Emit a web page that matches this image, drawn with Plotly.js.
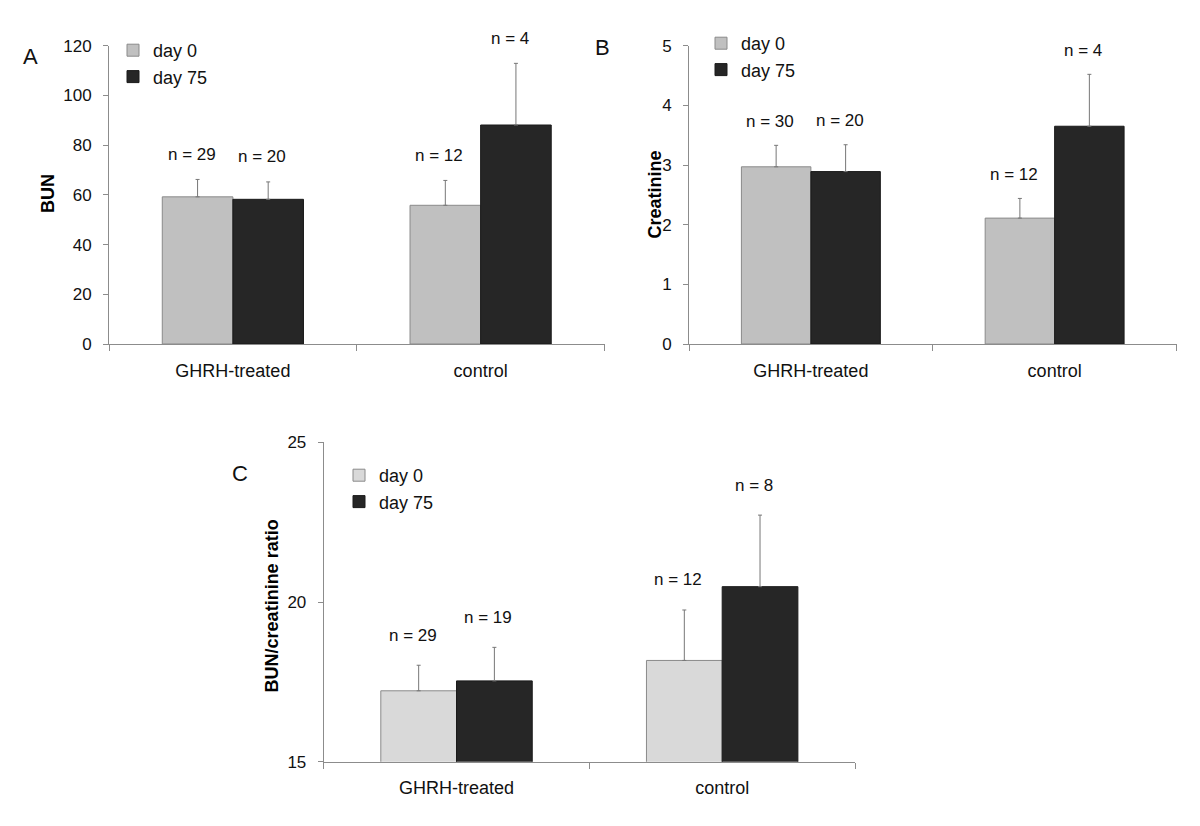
<!DOCTYPE html>
<html>
<head>
<meta charset="utf-8">
<script src="https://cdn.plot.ly/plotly-3.0.1.min.js"></script>
<style>html,body{margin:0;padding:0;background:#fff;}#chart{width:1200px;height:826px;}</style>
</head>
<body>
<div id="chart"></div>
<script>
// ---- data ----
const categories = ['GHRH-treated', 'control'];
const seriesNames = ['day 0', 'day 75'];

const bunDay0 = [59.2, 55.8];
const bunDay0Err = [7.0, 10.0];
const bunDay75 = [58.2, 88.1];
const bunDay75Err = [7.0, 24.8];
const bunNDay0 = [29, 12];
const bunNDay75 = [20, 4];

const creatDay0 = [2.97, 2.11];
const creatDay0Err = [0.36, 0.33];
const creatDay75 = [2.89, 3.65];
const creatDay75Err = [0.45, 0.87];
const creatNDay0 = [30, 12];
const creatNDay75 = [20, 4];

const ratioDay0 = [17.22, 18.17];
const ratioDay0Err = [0.80, 1.58];
const ratioDay75 = [17.53, 20.48];
const ratioDay75Err = [1.05, 2.24];
const ratioNDay0 = [29, 12];
const ratioNDay75 = [19, 8];

const panelTitles = ['BUN', 'Creatinine', 'BUN/creatinine ratio'];
const panelLetters = ['A', 'B', 'C'];

// ---- helpers ----
const W = 1200, H = 826;
const px = v => v / W;
const py = v => 1 - v / H;
const FONT = '"Liberation Sans", Arial, Helvetica, sans-serif';
const AXIS_COLOR = '#8c8c8c';
const BARGAP = 0.43;
const zeros = a => a.map(() => 0);

function barTrace(name, vals, errs, color, lineColor, xa, ya, legend) {
  return {
    type: 'bar', name: name, x: categories, y: vals,
    xaxis: xa, yaxis: ya, legend: legend, showlegend: true,
    marker: {color: color, line: {color: lineColor, width: 1}},
    error_y: {type: 'data', symmetric: false, array: errs, arrayminus: zeros(errs),
              color: '#777777', thickness: 1, width: 2},
    hoverinfo: 'skip'
  };
}

const traces = [
  barTrace(seriesNames[0], bunDay0, bunDay0Err, '#c0c0c0', '#8a8a8a', 'x', 'y', 'legend'),
  barTrace(seriesNames[1], bunDay75, bunDay75Err, '#262626', '#1a1a1a', 'x', 'y', 'legend'),
  barTrace(seriesNames[0], creatDay0, creatDay0Err, '#c0c0c0', '#8a8a8a', 'x2', 'y2', 'legend2'),
  barTrace(seriesNames[1], creatDay75, creatDay75Err, '#262626', '#1a1a1a', 'x2', 'y2', 'legend2'),
  barTrace(seriesNames[0], ratioDay0, ratioDay0Err, '#d9d9d9', '#8a8a8a', 'x3', 'y3', 'legend3'),
  barTrace(seriesNames[1], ratioDay75, ratioDay75Err, '#262626', '#1a1a1a', 'x3', 'y3', 'legend3')
];

// n-labels above error bars
const barOffset = (1 - BARGAP) / 4;
const annotations = [];
function nLabels(vals, errs, ns, side, xa, ya, yshift) {
  ns.forEach((n, i) => {
    annotations.push({
      xref: xa, yref: ya, x: i + side * barOffset, y: vals[i] + errs[i],
      text: 'n = ' + n, showarrow: false, xanchor: 'center', yanchor: 'middle',
      xshift: -6, yshift: yshift, font: {family: FONT, size: 17, color: '#111'}
    });
  });
}
nLabels(bunDay0, bunDay0Err, bunNDay0, -1, 'x', 'y', 25);
nLabels(bunDay75, bunDay75Err, bunNDay75, 1, 'x', 'y', 25);
nLabels(creatDay0, creatDay0Err, creatNDay0, -1, 'x2', 'y2', 24);
nLabels(creatDay75, creatDay75Err, creatNDay75, 1, 'x2', 'y2', 24);
nLabels(ratioDay0, ratioDay0Err, ratioNDay0, -1, 'x3', 'y3', 30);
nLabels(ratioDay75, ratioDay75Err, ratioNDay75, 1, 'x3', 'y3', 30);

// panel letters
[[30, 57], [602, 47], [240, 473]].forEach(([x, y], i) => {
  annotations.push({xref: 'paper', yref: 'paper', x: px(x), y: py(y), text: panelLetters[i],
    showarrow: false, xanchor: 'center', yanchor: 'middle',
    font: {family: FONT, size: 22, color: '#111'}});
});

// y-axis titles (rotated)
[[48, 194], [654.5, 195], [272.4, 606]].forEach(([x, y], i) => {
  annotations.push({xref: 'paper', yref: 'paper', x: px(x), y: py(y), text: '<b>' + panelTitles[i] + '</b>',
    textangle: -90, showarrow: false, xanchor: 'center', yanchor: 'middle',
    font: {family: FONT, size: 18, color: '#000'}});
});

function xAxis(domain, anchor) {
  return {
    domain: domain, anchor: anchor, type: 'category',
    showline: true, linecolor: AXIS_COLOR, linewidth: 1,
    ticks: 'outside', tickson: 'boundaries', ticklen: 6, tickcolor: AXIS_COLOR,
    ticklabelstandoff: 10,
    tickfont: {family: FONT, size: 18, color: '#111'},
    showgrid: false, zeroline: false, fixedrange: true
  };
}
function yAxis(domain, anchor, range, dtick) {
  return {
    domain: domain, anchor: anchor, range: range, dtick: dtick, tick0: range[0],
    showline: true, linecolor: AXIS_COLOR, linewidth: 1,
    ticks: 'outside', ticklen: 5, tickcolor: AXIS_COLOR,
    ticklabelstandoff: 8,
    tickfont: {family: FONT, size: 17, color: '#111'},
    showgrid: false, zeroline: false, fixedrange: true
  };
}

const legendBase = {
  xanchor: 'left', yanchor: 'top', bgcolor: 'rgba(0,0,0,0)', borderwidth: 0,
  traceorder: 'normal', itemclick: false, itemdoubleclick: false,
  font: {family: FONT, size: 18, color: '#111'}
};

const layout = {
  width: W, height: H,
  margin: {l: 0, r: 0, t: 0, b: 0},
  paper_bgcolor: '#fff', plot_bgcolor: 'rgba(0,0,0,0)',
  font: {family: FONT, color: '#111'},
  barmode: 'group', bargap: BARGAP, bargroupgap: 0,
  xaxis: xAxis([px(109), px(604.5)], 'y'),
  yaxis: yAxis([py(344), py(45.7)], 'x', [0, 120], 20),
  xaxis2: xAxis([px(689), px(1176.5)], 'y2'),
  yaxis2: yAxis([py(344), py(45.7)], 'x2', [0, 5], 1),
  xaxis3: xAxis([px(323.7), px(855)], 'y3'),
  yaxis3: yAxis([py(761.7), py(442.3)], 'x3', [15, 25], 5),
  legend: Object.assign({}, legendBase, {x: px(113), y: py(32)}),
  legend2: Object.assign({}, legendBase, {x: px(701), y: py(25)}),
  legend3: Object.assign({}, legendBase, {x: px(339), y: py(457)}),
  annotations: annotations,
  showlegend: true
};

Plotly.newPlot('chart', traces, layout, {staticPlot: true, displayModeBar: false});
</script>
</body>
</html>
